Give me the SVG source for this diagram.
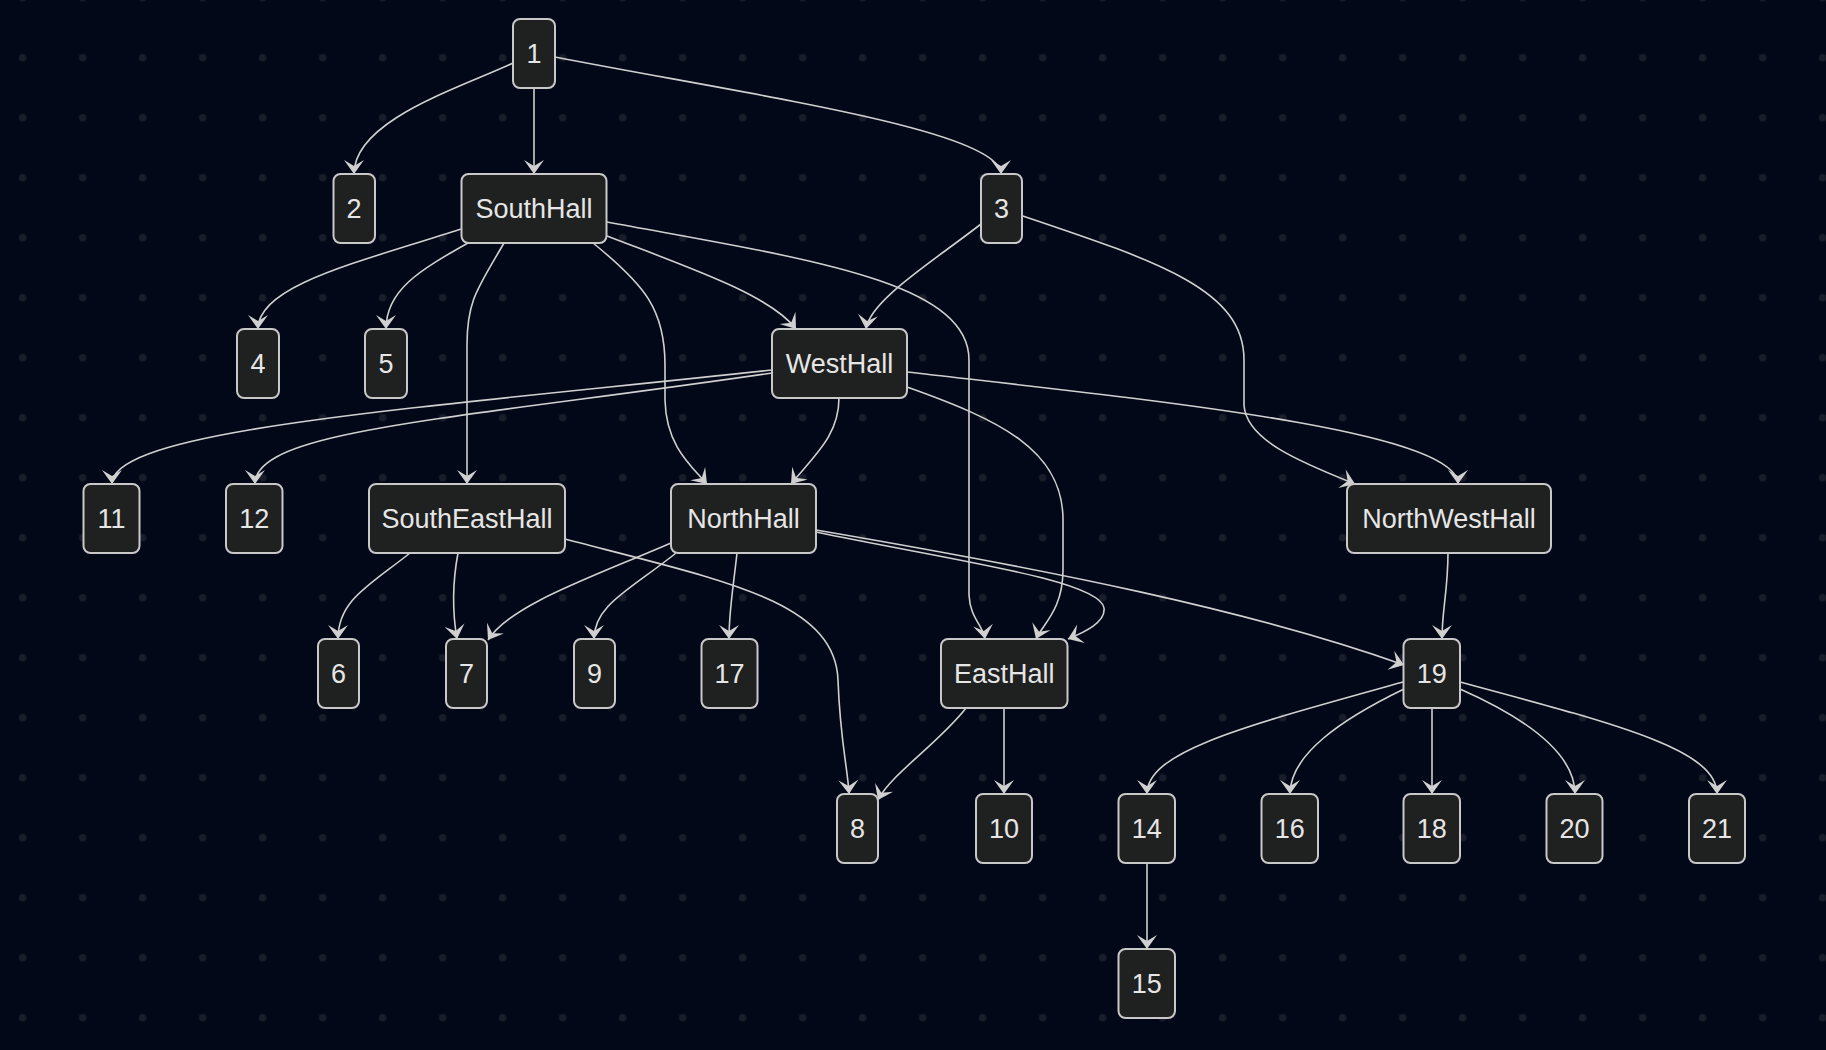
<svg xmlns="http://www.w3.org/2000/svg" width="1826" height="1050" viewBox="0 0 1826 1050">
<defs>
<pattern id="dots" patternUnits="userSpaceOnUse" x="-7.3" y="27.7" width="60" height="60">
<circle cx="30" cy="30" r="3.8" fill="#1a1e2a"/>
</pattern>
<marker id="arr" markerUnits="userSpaceOnUse" viewBox="-16 -12 18 24" refX="0" refY="0" markerWidth="18" markerHeight="24" orient="auto">
<path d="M0,0 L-14,-10 L-8,0 L-14,10 Z" fill="#d0d0d0"/>
</marker>
<style>
.node rect{fill:#1f2020;stroke:#c8c8c8;stroke-width:2}
.node text{fill:#e6e6e6;font-family:"Liberation Sans",Arial,sans-serif;font-size:27px;text-anchor:middle}
.edges path{fill:none;stroke:#d0d0d0;stroke-width:1.6;marker-end:url(#arr)}
</style>
</defs>
<rect width="1826" height="1050" fill="#020817"/>
<rect width="1826" height="1050" fill="url(#dots)"/>
<g class="edges" id="edges">
<path d="M513,63 C460,88 354,120 354,174"/>
<path d="M534,88 L534,174"/>
<path d="M555,57 C750,95 1001,130 1001,174"/>
<path d="M461,229 C360,262 258,285 258,329"/>
<path d="M468,243 C420,270 386,290 386,329"/>
<path d="M504,243 C478,288 467,300 467,345 L467,484"/>
<path d="M593,243 C645,285 665,310 665,365 L665,400 C666,445 690,465 707,484"/>
<path d="M607,236 C690,268 770,295 796,329"/>
<path d="M607,222 C800,258 969,280 969,360 L969,595 C970,618 983,625 985,639"/>
<path d="M981,224 C935,260 870,300 866,329"/>
<path d="M1023,216 C1160,262 1244,290 1244,360 L1244,405 C1246,440 1300,462 1355,484"/>
<path d="M772,370 C400,410 112,430 112,484"/>
<path d="M772,373 C450,420 255,430 255,484"/>
<path d="M839,398 C839,435 815,455 791,484"/>
<path d="M907,387 C1000,420 1063,450 1063,520 L1063,570 C1063,610 1042,625 1036,639"/>
<path d="M907,372 C1150,400 1458,430 1458,484"/>
<path d="M410,553 C370,585 338,600 338,639"/>
<path d="M458,553 C452,585 452,610 457,639"/>
<path d="M565,539 C720,580 835,600 838,680 C840,740 848,770 849,794"/>
<path d="M671,543 C590,578 510,605 488,640"/>
<path d="M676,553 C630,590 594,605 594,639"/>
<path d="M737,553 C733,590 729,610 729,639"/>
<path d="M816,532 C950,560 1100,580 1104,608 C1106,622 1085,632 1068,639"/>
<path d="M816,530 C1050,570 1250,610 1404,665"/>
<path d="M1448,553 C1448,590 1442,610 1442,639"/>
<path d="M966,708 C940,742 890,775 878,800"/>
<path d="M1004,708 L1004,794"/>
<path d="M1403,682 C1250,725 1147,750 1147,794"/>
<path d="M1404,689 C1340,720 1290,755 1290,794"/>
<path d="M1432,708 L1432,794"/>
<path d="M1460,689 C1530,720 1575,755 1575,794"/>
<path d="M1460,682 C1620,725 1717,750 1717,794"/>
<path d="M1147,863 L1147,949"/>
</g>
<g class="node" id="n1"><rect x="513" y="19" width="42" height="69" rx="7"/><text x="534" y="63">1</text></g>
<g class="node" id="n2"><rect x="333.5" y="174" width="41.5" height="69" rx="7"/><text x="354" y="218">2</text></g>
<g class="node" id="SouthHall"><rect x="461.5" y="174" width="145" height="69" rx="7"/><text x="534" y="218">SouthHall</text></g>
<g class="node" id="n3"><rect x="981" y="174" width="41" height="69" rx="7"/><text x="1001.5" y="218">3</text></g>
<g class="node" id="n4"><rect x="237" y="329" width="42" height="69" rx="7"/><text x="258" y="373">4</text></g>
<g class="node" id="n5"><rect x="365" y="329" width="42" height="69" rx="7"/><text x="386" y="373">5</text></g>
<g class="node" id="WestHall"><rect x="772" y="329" width="135" height="69" rx="7"/><text x="839.5" y="373">WestHall</text></g>
<g class="node" id="n11"><rect x="83.5" y="484" width="56" height="69" rx="7"/><text x="111.5" y="528">11</text></g>
<g class="node" id="n12"><rect x="226" y="484" width="56.5" height="69" rx="7"/><text x="254.3" y="528">12</text></g>
<g class="node" id="SouthEastHall"><rect x="369" y="484" width="196" height="69" rx="7"/><text x="467" y="528">SouthEastHall</text></g>
<g class="node" id="NorthHall"><rect x="671" y="484" width="145" height="69" rx="7"/><text x="743.5" y="528">NorthHall</text></g>
<g class="node" id="NorthWestHall"><rect x="1347" y="484" width="204" height="69" rx="7"/><text x="1449" y="528">NorthWestHall</text></g>
<g class="node" id="n6"><rect x="318" y="639" width="41" height="69" rx="7"/><text x="338.5" y="683">6</text></g>
<g class="node" id="n7"><rect x="446" y="639" width="41" height="69" rx="7"/><text x="466.5" y="683">7</text></g>
<g class="node" id="n9"><rect x="574" y="639" width="41" height="69" rx="7"/><text x="594.5" y="683">9</text></g>
<g class="node" id="n17"><rect x="701.5" y="639" width="56" height="69" rx="7"/><text x="729.5" y="683">17</text></g>
<g class="node" id="EastHall"><rect x="941" y="639" width="126.5" height="69" rx="7"/><text x="1004.3" y="683">EastHall</text></g>
<g class="node" id="n19"><rect x="1403.5" y="639" width="56.5" height="69" rx="7"/><text x="1431.7" y="683">19</text></g>
<g class="node" id="n8"><rect x="837" y="794" width="41" height="69" rx="7"/><text x="857.5" y="838">8</text></g>
<g class="node" id="n10"><rect x="976" y="794" width="56" height="69" rx="7"/><text x="1004" y="838">10</text></g>
<g class="node" id="n14"><rect x="1118.5" y="794" width="56.5" height="69" rx="7"/><text x="1146.7" y="838">14</text></g>
<g class="node" id="n16"><rect x="1261.5" y="794" width="56.5" height="69" rx="7"/><text x="1289.7" y="838">16</text></g>
<g class="node" id="n18"><rect x="1403.5" y="794" width="56.5" height="69" rx="7"/><text x="1431.7" y="838">18</text></g>
<g class="node" id="n20"><rect x="1546.5" y="794" width="56" height="69" rx="7"/><text x="1574.5" y="838">20</text></g>
<g class="node" id="n21"><rect x="1689" y="794" width="56" height="69" rx="7"/><text x="1717" y="838">21</text></g>
<g class="node" id="n15"><rect x="1118.5" y="949" width="56.5" height="69" rx="7"/><text x="1146.7" y="993">15</text></g>
</svg>
